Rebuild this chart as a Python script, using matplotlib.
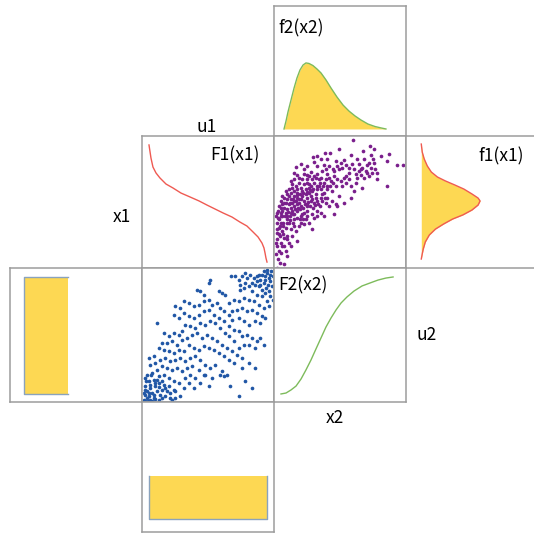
import matplotlib
matplotlib.use('Agg')
import matplotlib.pyplot as plt
import numpy as np

# f2(x2): skewed density (panel fractions)
f2_x = [0.076, 0.091, 0.106, 0.129, 0.152, 0.174, 0.197, 0.220, 0.242, 0.265, 0.295, 0.326,
        0.356, 0.394, 0.432, 0.477, 0.523, 0.568, 0.614, 0.659, 0.712, 0.765, 0.811, 0.848]
f2_y = [0.054, 0.115, 0.185, 0.277, 0.369, 0.446, 0.508, 0.546, 0.562, 0.558, 0.542, 0.515,
        0.485, 0.431, 0.369, 0.300, 0.238, 0.192, 0.154, 0.123, 0.092, 0.073, 0.062, 0.054]
f2_base = 0.054

# F1(x1): cdf drawn sideways
F1_u = [0.053, 0.068, 0.083, 0.106, 0.136, 0.182, 0.235, 0.295, 0.364, 0.432, 0.492, 0.553,
        0.614, 0.682, 0.742, 0.795, 0.841, 0.879, 0.909, 0.924, 0.932, 0.939, 0.947]
F1_x = [0.932, 0.833, 0.765, 0.720, 0.682, 0.636, 0.606, 0.568, 0.538, 0.508, 0.477, 0.447,
        0.417, 0.386, 0.348, 0.318, 0.273, 0.235, 0.189, 0.152, 0.114, 0.076, 0.045]

# f1(x1): normal density drawn sideways
f1_x = [0.939, 0.879, 0.826, 0.773, 0.727, 0.689, 0.659, 0.629, 0.598, 0.561, 0.530, 0.508,
        0.477, 0.439, 0.402, 0.371, 0.333, 0.295, 0.250, 0.197, 0.144, 0.106, 0.068]
f1_d = [0.114, 0.121, 0.136, 0.159, 0.189, 0.235, 0.295, 0.364, 0.432, 0.492, 0.538, 0.553,
        0.538, 0.492, 0.424, 0.348, 0.280, 0.220, 0.174, 0.144, 0.129, 0.121, 0.114]
f1_base = 0.114

# F2(x2): cdf
F2_x = [0.053, 0.091, 0.129, 0.167, 0.205, 0.242, 0.280, 0.318, 0.356, 0.394, 0.432, 0.470,
        0.508, 0.553, 0.606, 0.667, 0.727, 0.788, 0.848, 0.902]
F2_u = [0.060, 0.067, 0.090, 0.119, 0.172, 0.239, 0.313, 0.396, 0.478, 0.560, 0.627, 0.687,
        0.739, 0.784, 0.828, 0.866, 0.888, 0.910, 0.925, 0.933]

# uniform marginals of u1, u2
u2_span = [0.060, 0.933]
u2_dens = [0.106, 0.439]
u1_span = [0.053, 0.947]
u1_dens = [0.100, 0.431]

# (x1, x2) sample, rank units, y counted downward
purple_pts = [
    (238, 12), (268, 44), (287, 30), (300, 40), (195, 40), (152, 50), (168, 50), (130, 60), (118, 64),
    (140, 70), (160, 70), (185, 76), (210, 72), (230, 56), (250, 70), (290, 56), (296, 70), (280, 88),
    (303, 98), (275, 104), (260, 118), (250, 125), (240, 100), (225, 110), (205, 95), (215, 88),
    (195, 100), (176, 98), (165, 90), (150, 86), (130, 90), (120, 78), (100, 90), (90, 100), (80, 84),
    (66, 92), (70, 118), (60, 110), (100, 118), (110, 108), (130, 115), (145, 105), (160, 115),
    (180, 120), (190, 130), (170, 135), (150, 140), (135, 130), (120, 140), (100, 140), (85, 130),
    (75, 140), (65, 150), (55, 145), (45, 160), (40, 175), (30, 185), (20, 195), (15, 210), (25, 205),
    (35, 200), (50, 190), (60, 180), (70, 170), (85, 165), (95, 160), (105, 155), (115, 165), (125, 175),
    (140, 160), (150, 170), (160, 185), (175, 195), (185, 205), (195, 180), (205, 150), (215, 140),
    (230, 150), (215, 120), (240, 165), (265, 155), (285, 120), (310, 130), (340, 75), (370, 88),
    (387, 88), (340, 150), (320, 60), (345, 55),
    (10, 230), (15, 250), (20, 240), (25, 225), (30, 215), (35, 230), (40, 220), (45, 205), (50, 215),
    (55, 200), (60, 210), (65, 195), (70, 185), (75, 200), (80, 190), (85, 180), (90, 195), (95, 175),
    (100, 185), (105, 170), (110, 180), (115, 190), (120, 200), (125, 185), (130, 160), (135, 150),
    (110, 150), (100, 130), (90, 145), (80, 155), (70, 160), (60, 165), (50, 170), (40, 190), (30, 200),
    (20, 215), (12, 225), (8, 260), (18, 270), (28, 260), (38, 250), (48, 240), (58, 235), (68, 225),
    (78, 220), (88, 215), (98, 205), (108, 210), (118, 215), (128, 225), (138, 210), (145, 195),
    (155, 200), (140, 230), (120, 245), (100, 240), (80, 240), (60, 250), (45, 260), (35, 275),
    (25, 285), (15, 295), (10, 310), (20, 320), (8, 330), (15, 345), (5, 355), (12, 370), (30, 385),
    (18, 380), (35, 345), (45, 320), (55, 300), (65, 285), (75, 270), (90, 265), (105, 260), (115, 280),
    (70, 315), (50, 330), (40, 300), (30, 305), (60, 270), (150, 240), (180, 235), (165, 210), (190, 210),
    (210, 200), (230, 185), (20, 260), (50, 280), (80, 260), (100, 225), (115, 235), (70, 205), (40, 240),
    (25, 240), (55, 225), (85, 235), (95, 250), (130, 195), (145, 175), (160, 150), (175, 165),
    (185, 150), (200, 135), (210, 125), (225, 130), (245, 115), (255, 105), (265, 95), (270, 70),
    (285, 80), (300, 80), (310, 110), (280, 110), (270, 125), (260, 100), (235, 85), (225, 95),
    (200, 80), (190, 90), (180, 105), (165, 125), (155, 130), (140, 125), (125, 125), (115, 130),
    (105, 120), (90, 115), (75, 125), (60, 130), (50, 135), (55, 155), (45, 180), (35, 165), (25, 180),
    (60, 195), (15, 275), (8, 290), (25, 330), (40, 360), (5, 320),
    (5, 240), (12, 245), (22, 232), (32, 240), (42, 228), (52, 232), (62, 220), (72, 215), (82, 210),
    (92, 205), (102, 198), (112, 195), (122, 208), (132, 205), (142, 185), (152, 185), (48, 200),
    (58, 188), (68, 178), (78, 175), (88, 170), (98, 168), (108, 162), (118, 158), (128, 150),
    (138, 140), (148, 150), (158, 160), (168, 150), (178, 140), (28, 270), (38, 262), (48, 252),
    (58, 260), (68, 245), (78, 250), (88, 250), (18, 300), (28, 295), (38, 310), (10, 280), (20, 350),
    (10, 395), (30, 330), (60, 235), (100, 210), (90, 230), (130, 240), (75, 190), (105, 145),
    (120, 120), (155, 100), (245, 140), (255, 85), (290, 95), (295, 110),
]

# (u1, u2) sample, rank units, y counted downward
blue_pts = [
    (360, 20), (370, 25), (375, 15), (380, 30), (385, 40), (378, 50), (365, 45), (355, 35), (345, 25),
    (335, 30), (325, 20), (315, 30), (300, 25), (290, 35), (280, 25), (268, 25), (372, 60), (380, 70),
    (360, 65), (350, 55), (340, 50), (330, 45), (320, 55), (310, 45), (305, 60), (295, 65), (385, 20),
    (390, 55), (370, 35), (350, 20), (330, 70), (345, 80), (360, 85), (375, 100), (380, 115), (365, 120),
    (350, 110), (335, 100), (320, 95), (305, 90), (290, 100), (275, 95), (260, 105), (250, 80), (240, 75),
    (230, 70), (270, 130), (285, 125), (300, 120), (315, 130), (330, 125), (345, 135), (360, 145),
    (370, 150), (355, 165), (340, 160), (320, 170), (305, 160), (290, 150), (270, 155), (260, 140),
    (245, 130), (235, 120), (225, 105), (210, 110), (200, 95), (185, 80), (175, 70), (165, 65), (205, 35),
    (200, 45), (185, 100), (170, 110), (155, 115), (140, 105), (125, 100), (115, 120), (100, 115),
    (95, 140), (110, 150), (125, 135), (140, 145), (155, 150), (170, 140), (185, 130), (200, 125),
    (215, 140), (230, 150), (245, 160), (260, 175), (275, 185), (290, 190), (300, 205), (315, 200),
    (330, 210), (345, 220), (355, 210), (365, 230), (340, 240), (320, 230), (305, 230), (290, 240),
    (275, 220), (260, 205), (250, 195), (235, 180), (220, 165), (205, 160), (190, 170), (175, 165),
    (160, 180), (145, 175), (130, 170), (120, 190), (110, 200), (95, 195), (80, 205), (65, 195), (45, 165),
    (60, 225), (75, 225), (90, 220), (105, 230), (120, 215), (135, 210), (150, 200), (165, 195),
    (180, 210), (195, 200), (210, 210), (225, 220), (240, 230), (255, 240), (270, 250), (285, 260),
    (300, 270), (320, 285), (340, 300), (300, 300), (275, 285), (260, 275), (245, 265), (230, 255),
    (215, 245), (200, 240), (185, 235), (170, 245), (155, 240), (140, 230), (125, 250), (110, 245),
    (95, 255), (80, 250), (65, 245), (50, 240), (35, 265), (20, 270), (25, 290), (40, 285), (55, 275),
    (70, 270), (85, 280), (100, 275), (115, 270), (130, 280), (145, 270), (160, 265), (175, 275),
    (190, 290), (205, 300), (220, 290), (240, 310), (255, 320), (265, 355), (245, 325), (235, 320),
    (210, 330), (190, 320), (175, 345), (160, 330), (145, 320), (130, 330), (120, 310), (105, 300),
    (90, 305), (75, 300), (60, 295), (45, 305), (30, 315), (15, 320), (10, 330), (20, 340), (35, 335),
    (50, 325), (65, 320), (80, 330), (95, 340), (110, 345), (125, 360), (140, 345), (155, 360), (95, 365),
    (80, 355), (65, 350), (50, 345), (40, 355), (25, 360), (15, 370), (10, 380), (20, 385), (30, 375),
    (45, 370), (55, 380), (70, 385), (85, 375), (100, 370), (115, 385), (90, 395), (35, 390), (15, 390),
    (5, 375), (60, 365), (75, 370), (40, 345), (25, 350), (10, 355), (290, 385), (330, 360), (310, 340),
    (200, 355), (135, 300), (150, 295), (170, 305), (185, 320),
    (375, 5), (388, 10), (392, 25), (365, 10), (355, 50), (345, 40), (385, 85), (392, 95), (370, 75),
    (310, 15), (295, 50), (5, 395), (10, 400), (18, 398), (25, 395), (30, 398), (40, 392), (50, 395),
    (8, 365), (20, 375), (35, 380), (50, 358), (60, 390), (12, 340), (28, 320), (45, 335), (60, 340),
    (70, 360), (85, 390), (100, 390),
]

W, H = 534, 536
GRID = '#9c9c9c'
YELLOW = '#FDD853'
FONT = ['Noto Sans CJK SC', 'DejaVu Sans']

fig = plt.figure(figsize=(W / 100, H / 100), dpi=100)


def panel(x0, y0, x1, y1):
    ax = fig.add_axes([x0 / W, 1 - y1 / H, (x1 - x0) / W, (y1 - y0) / H])
    ax.set_xticks([])
    ax.set_yticks([])
    for s in ax.spines.values():
        s.set_color(GRID)
        s.set_linewidth(1.1)
    ax.set_xlim(0, 1)
    ax.set_ylim(0, 1)
    return ax


# top: f2(x2)
ax = panel(274, 6, 406, 136)
ax.fill_between(f2_x, f2_base, f2_y, color=YELLOW, lw=0)
ax.plot(f2_x, f2_y, color='#7dbb5b', lw=1)

# middle row
ax = panel(142, 136, 274, 268)
ax.plot(F1_u, F1_x, color='#ef5a52', lw=1)

ax = panel(274, 136, 406, 268)
p = np.array(purple_pts)
ax.scatter(p[:, 0], p[:, 1], s=7, color='#7a1f8c', lw=0)
ax.set_xlim(0, 396)
ax.set_ylim(396, 0)

ax = panel(406, 136, 540, 268)
ax.fill_betweenx(f1_x, f1_base, f1_d, color=YELLOW, lw=0)
ax.plot(f1_d, f1_x, color='#ef5a52', lw=1)

# bottom row
ax = panel(10, 268, 142, 402)
ax.fill_betweenx(u2_span, u2_dens[0], u2_dens[1], color=YELLOW, lw=0)
ax.plot([u2_dens[1], u2_dens[0], u2_dens[0], u2_dens[1]],
        [u2_span[1], u2_span[1], u2_span[0], u2_span[0]], color='#8aa3bd', lw=1)

ax = panel(142, 268, 274, 402)
b = np.array(blue_pts)
ax.scatter(b[:, 0], b[:, 1], s=7, color='#2157a6', lw=0)
ax.set_xlim(0, 396)
ax.set_ylim(402, 0)

ax = panel(274, 268, 406, 402)
ax.plot(F2_x, F2_u, color='#7dbb5b', lw=1)

ax = panel(142, 402, 274, 532)
ax.fill_between(u1_span, u1_dens[0], u1_dens[1], color=YELLOW, lw=0)
ax.plot([u1_span[0], u1_span[0], u1_span[1], u1_span[1]],
        [u1_dens[1], u1_dens[0], u1_dens[0], u1_dens[1]], color='#8aa3bd', lw=1)

# labels
labels = [('f2(x2)', 278, 28.5), ('u1', 197, 126.5), ('F1(x1)', 210, 155.5),
          ('f1(x1)', 478, 156.5), ('x1', 113, 217), ('F2(x2)', 278, 285.5),
          ('u2', 416, 335), ('x2', 326, 418)]
for txt, x, y in labels:
    fig.text(x / W, 1 - y / H, txt, ha='left', va='center', fontsize=12.5, family=FONT)

fig.savefig('out.png', dpi=100)
